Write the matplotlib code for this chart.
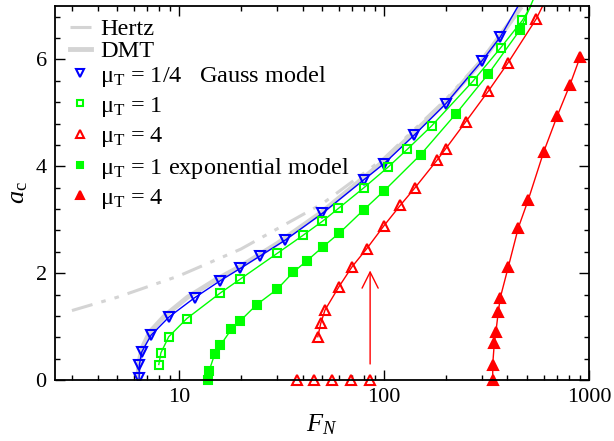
import matplotlib
matplotlib.use("Agg")
import matplotlib.pyplot as plt
from matplotlib.lines import Line2D
from matplotlib.ticker import MultipleLocator

plt.rcParams['font.family'] = ['Liberation Serif', 'DejaVu Serif']
plt.rcParams['mathtext.fontset'] = 'custom'
plt.rcParams['mathtext.rm'] = 'Liberation Serif'
plt.rcParams['mathtext.it'] = 'Liberation Serif:italic'
plt.rcParams['mathtext.bf'] = 'Liberation Serif:bold'

# --- data ---
hertz_F = [3.0, 5.0, 10, 20, 50, 100, 200, 300, 460]
hertz_a = [1.3, 1.55, 1.95, 2.45, 3.3, 4.15, 5.25, 6.0, 6.95]

dmt_F = [6.3, 6.35, 6.6, 7.2, 8.5, 11, 15, 20, 30, 50, 100, 200, 300, 460]
dmt_a = [0.0, 0.3, 0.6, 0.9, 1.2, 1.55, 1.87, 2.13, 2.55, 3.15, 4.1, 5.2, 5.97, 6.95]

# mu_T = 1/4, Gauss model
g025_F = [6.38, 6.4, 6.58, 7.3, 8.93, 11.9, 15.9, 19.9, 24.8, 33.0, 50.0, 79.8, 100, 140, 200, 300, 369, 500]
g025_a = [0.03, 0.29, 0.53, 0.84, 1.18, 1.54, 1.86, 2.09, 2.32, 2.62, 3.12, 3.75, 4.05, 4.58, 5.17, 5.97, 6.42, 7.3]

# mu_T = 1, Gauss model
g1_F = [7.96, 8.15, 8.9, 10.9, 15.9, 19.9, 30.1, 40.3, 50, 59.8, 79.8, 105, 130, 171, 271, 371, 473, 580]
g1_a = [0.29, 0.51, 0.81, 1.15, 1.63, 1.89, 2.37, 2.71, 2.97, 3.21, 3.60, 3.99, 4.32, 4.76, 5.59, 6.22, 6.73, 7.3]

# mu_T = 4, Gauss model (points stuck at a = 0, then the branch)
g4_F0 = [37.8, 45.6, 55.7, 69.2, 85.5]
g4_a0 = [0, 0, 0, 0, 0]
g4_F = [47.5, 49.1, 51.5, 60.1, 69.8, 82.4, 100, 120, 141, 181, 200, 250, 323, 403, 553, 650]
g4_a = [0.81, 1.06, 1.31, 1.74, 2.12, 2.46, 2.89, 3.27, 3.59, 4.11, 4.33, 4.83, 5.41, 5.94, 6.76, 7.3]

# mu_T = 1, exponential model
e1_F = [13.8, 14.0, 14.9, 15.9, 18.0, 19.9, 23.9, 30.1, 36.1, 42.0, 50.2, 60.5, 79.8, 100, 151, 224, 323, 462, 560]
e1_a = [0.0, 0.17, 0.48, 0.65, 0.95, 1.11, 1.41, 1.70, 2.02, 2.23, 2.49, 2.75, 3.19, 3.54, 4.22, 4.98, 5.73, 6.56, 7.3]

# mu_T = 4, exponential model
e4_F = [339, 339, 345, 351, 361, 369, 404, 452, 504, 601, 701, 808, 904]
e4_a = [0.0, 0.29, 0.69, 0.89, 1.28, 1.54, 2.12, 2.85, 3.36, 4.27, 4.95, 5.53, 6.04]

arrow_F = 85.5
arrow_a = [0.3, 2.05]

fig = plt.figure(figsize=(6.14, 4.41), dpi=100)
ax = fig.add_axes([0.0896, 0.1383, 0.8697, 0.8481])

gray = '#d4d4d4'
green = '#00ff00'
hertz_dash = (7, 3, 1.5, 3, 1.5, 3)
ax.plot(hertz_F, hertz_a, color=gray, lw=2.2, dashes=hertz_dash)
ax.plot(dmt_F, dmt_a, color=gray, lw=3.5)

ms = 7
ax.plot(g025_F, g025_a, color='blue', lw=1, marker='v', ms=ms, mfc='none', mew=1.5)
ax.plot(g1_F, g1_a, color=green, lw=1, marker='s', ms=6, mfc='none', mew=1.5)
ax.plot(g4_F, g4_a, color='red', lw=1, marker='^', ms=ms, mfc='none', mew=1.5)
ax.plot(g4_F0, g4_a0, color='red', lw=0, marker='^', ms=ms, mfc='none', mew=1.5, clip_on=False)
ax.plot(e1_F, e1_a, color=green, lw=1, marker='s', ms=6, mew=1.5, clip_on=False)
ax.plot(e4_F, e4_a, color='red', lw=1, marker='^', ms=ms, mew=1.5, clip_on=False)

ax.annotate('', xy=(arrow_F, arrow_a[1]), xytext=(arrow_F, arrow_a[0]),
            arrowprops=dict(arrowstyle='->', color='red', lw=1, mutation_scale=29,
                            shrinkA=0, shrinkB=0))

ax.set_xscale('log')
ax.set_xlim(2.48, 1000)
ax.set_ylim(0, 7)
ax.yaxis.set_major_locator(MultipleLocator(2))
ax.yaxis.set_minor_locator(MultipleLocator(0.4))
ax.set_xticks([10, 100, 1000])
ax.set_xticklabels(['10', '100', '1000'])
ax.tick_params(which='both', direction='in', top=True, right=True, labelsize=16, width=1)
ax.tick_params(which='major', length=7, pad=6)
ax.tick_params(which='minor', length=3.5)
for s in ax.spines.values():
    s.set_linewidth(1.3)

ax.set_xlabel(r'$F_N$', fontsize=19, labelpad=4)
ax.set_ylabel(r'$a_\mathrm{c}$', fontsize=19, labelpad=4)

# legend: two blocks so the row spacing can follow the original
lfs = 17.5
lines1 = [Line2D([], [], color=gray, lw=2.2, dashes=hertz_dash),
          Line2D([], [], color=gray, lw=3.5)]
leg1 = ax.legend(lines1, ['Hertz', 'DMT'], loc='upper left', bbox_to_anchor=(0.028, 0.967),
                 frameon=False, fontsize=lfs, handlelength=0.86, handletextpad=0.37,
                 labelspacing=0.0, borderaxespad=0, borderpad=0)
ax.add_artist(leg1)

lm = 6
lines2 = [Line2D([], [], ls='none', marker='v', color='blue', mfc='none', ms=lm, mew=1.5),
          Line2D([], [], ls='none', marker='s', color=green, mfc='none', ms=5, mew=1.5),
          Line2D([], [], ls='none', marker='^', color='red', mfc='none', ms=lm, mew=1.5),
          Line2D([], [], ls='none', marker='s', color=green, ms=5, mew=1.5),
          Line2D([], [], ls='none', marker='^', color='red', ms=lm, mew=1.5)]
labels2 = [r'$\mathrm{\mu_T}$ = 1/4   Gauss model',
           r'$\mathrm{\mu_T}$ = 1',
           r'$\mathrm{\mu_T}$ = 4',
           r'$\mathrm{\mu_T}$ = 1 exponential model',
           r'$\mathrm{\mu_T}$ = 4']
ax.legend(lines2, labels2, loc='upper left', bbox_to_anchor=(0.028, 0.846),
          frameon=False, fontsize=lfs, handlelength=0.86, handletextpad=0.37,
          labelspacing=0.26, borderaxespad=0, borderpad=0)

plt.savefig('out.png', dpi=100)
